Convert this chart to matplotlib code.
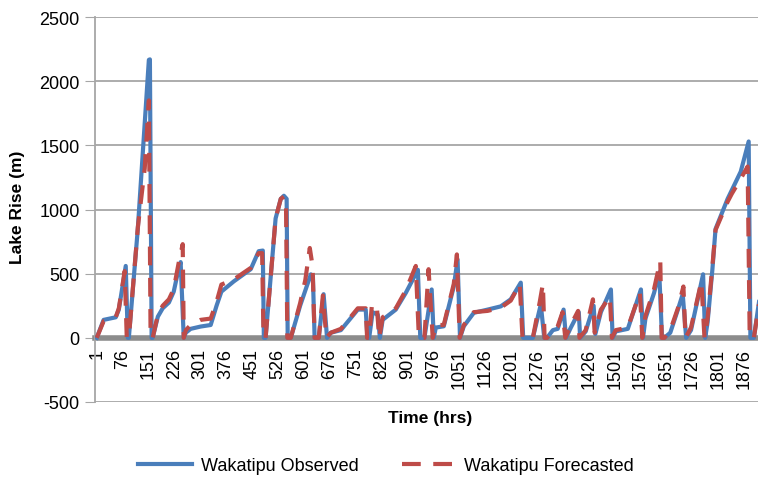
import matplotlib.pyplot as plt

plt.rcParams['font.family'] = ['Liberation Sans', 'DejaVu Sans']
plt.rcParams['axes.unicode_minus'] = False

# observed lake rise as (hour, value) breakpoints
obs_t = [1, 21, 56, 65, 85, 91, 94, 120, 152, 155, 160, 163, 178, 192, 210, 224, 238, 244, 253,
         259, 273, 302, 331, 348, 362, 398, 447, 470, 482, 485, 490, 519, 534, 543, 551, 554,
         563, 590, 621, 627, 632, 644, 658, 668, 679, 708, 757, 780, 785, 790, 800, 815, 821,
         829, 867, 896, 931, 938, 950, 971, 977, 983, 1006, 1035, 1046, 1053, 1064, 1093, 1133,
         1171, 1200, 1229, 1236, 1264, 1287, 1297, 1305, 1322, 1336, 1353, 1360, 1374, 1397,
         1401, 1417, 1440, 1445, 1461, 1490, 1495, 1504, 1539, 1577, 1583, 1590, 1615, 1630, 1638,
         1645, 1662, 1684, 1698, 1708, 1722, 1757, 1763, 1770, 1784, 1793, 1828, 1866, 1889,
         1894, 1904, 1920]
obs_v = [0, 140, 160, 220, 560, 0, 0, 850, 2166, 2170, 0, 0, 165, 230, 275, 360, 535, 590, 0,
         40, 70, 88, 100, 250, 360, 440, 535, 675, 680, 0, 0, 930, 1083, 1107, 1083, 0,
         0, 250, 495, 480, 0, 0, 340, 0, 40, 60, 220, 220, 0, 0, 200, 180, 0,
         140, 220, 350, 530, 0, 0, 377, 0, 80, 90, 400, 610, 0, 90, 195, 220,
         245, 300, 430, 0, 0, 260, 0, 0, 60, 70, 220, 0, 80, 200,
         0, 50, 250, 30, 200, 377, 0, 50, 70, 377, 0, 150, 350, 510, 0,
         0, 40, 220, 340, 0, 60, 495, 0, 120, 535, 848, 1083, 1295, 1530,
         0, 0, 300]

# forecasted lake rise
fc_t = [1, 21, 56, 65, 82, 88, 94, 120, 140, 152, 157, 163, 178, 192, 210, 224, 238, 250, 253,
        259, 273, 302, 331, 348, 362, 398, 447, 470, 480, 484, 490, 519, 534, 543, 549, 553,
        563, 590, 605, 618, 626, 632, 644, 656, 666, 679, 708, 757, 780, 784, 790, 798, 812, 819,
        829, 867, 896, 925, 934, 950, 962, 974, 983, 1006, 1035, 1044, 1052, 1064, 1093, 1133,
        1171, 1200, 1226, 1234, 1264, 1284, 1293, 1298, 1305, 1322, 1336, 1350, 1358, 1374, 1395,
        1399, 1417, 1438, 1443, 1461, 1487, 1493, 1504, 1539, 1574, 1581, 1590, 1615, 1633, 1637,
        1645, 1662, 1684, 1700, 1706, 1722, 1752, 1761, 1770, 1784, 1793, 1828, 1840, 1866, 1886,
        1892, 1904, 1920]
fc_v = [0, 130, 160, 230, 520, 0, 0, 860, 1320, 1850, 0, 0, 180, 250, 300, 380, 580, 730, 0,
        60, 100, 140, 150, 280, 415, 455, 545, 660, 660, 0, 0, 930, 1083, 1100, 1080, 0,
        0, 270, 450, 700, 560, 0, 0, 330, 0, 40, 70, 230, 230, 0, 0, 260, 250, 0,
        160, 230, 370, 560, 0, 0, 535, 0, 100, 100, 420, 650, 0, 100, 200, 210,
        235, 290, 420, 0, 0, 280, 420, 0, 0, 50, 90, 200, 0, 100, 210,
        0, 60, 300, 40, 220, 320, 0, 60, 80, 350, 0, 170, 380, 600, 0,
        0, 60, 230, 400, 0, 80, 440, 0, 150, 560, 840, 1060, 1122, 1240, 1335,
        0, 0, 280]

tick_hours = list(range(1, 1877, 75))

fig = plt.figure(figsize=(7.58, 4.85), dpi=100)
ax = fig.add_axes([95 / 758, 1 - 403 / 485, 663 / 758, 385 / 485])

# x axis drawn as the thick grey line through zero (set before the ticks,
# moving the spine resets them)
for side in ['top', 'right']:
    ax.spines[side].set_visible(False)
ax.spines['left'].set_color('#a6a6a6')
ax.spines['left'].set_linewidth(1.3)
ax.spines['bottom'].set_position(('data', 0))
ax.spines['bottom'].set_color('#8c8c8c')
ax.spines['bottom'].set_linewidth(4)
ax.spines['bottom'].set_zorder(2)

ax.plot(obs_t, obs_v, color='#4a7ebb', lw=3, label='Wakatipu Observed',
        solid_joinstyle='round', zorder=3)
ax.plot(fc_t, fc_v, color='#be4b48', lw=3, ls=(0, (4.5, 3)),
        label='Wakatipu Forecasted', zorder=4)

ax.set_xlim(-4, 1916)
ax.set_ylim(-500, 2500)
ax.set_yticks(range(-500, 2501, 500))
ax.set_xticks(tick_hours)
ax.set_xticklabels([str(h) for h in tick_hours], rotation=90, fontsize=13)
ax.tick_params(axis='y', labelsize=13, length=7, color='#a6a6a6', pad=4)
ax.tick_params(axis='x', length=0, pad=7)

ax.grid(axis='y', color='#a6a6a6', lw=1.3)
ax.set_axisbelow(True)

fig.text(18 / 758, 1 - 207 / 485, 'Lake Rise (m)', rotation=90, fontsize=12.5,
         fontweight='bold', ha='center', va='center')
fig.text(430 / 758, 1 - 418 / 485, 'Time (hrs)', fontsize=12.5,
         fontweight='bold', ha='center', va='center')

fig.legend(loc='center', bbox_to_anchor=(386 / 758, 1 - 467 / 485), ncol=2,
           frameon=False, fontsize=13, handlelength=3.0, handletextpad=0.45,
           columnspacing=2.4)

fig.savefig('out.png', dpi=100)
